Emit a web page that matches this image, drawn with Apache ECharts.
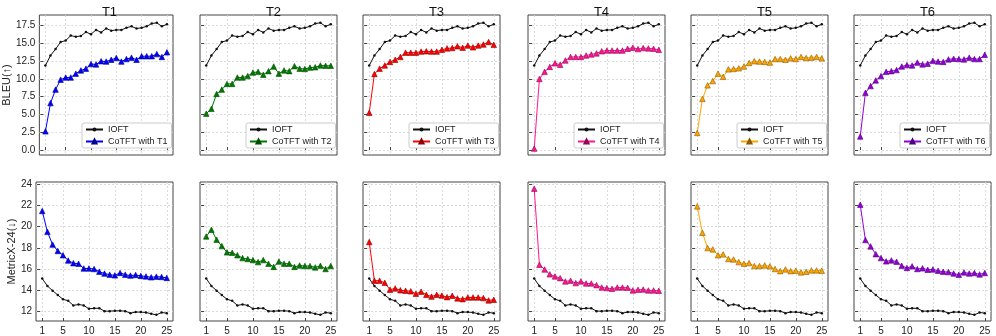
<!DOCTYPE html>
<html>
<head>
<meta charset="utf-8">
<script src="https://cdn.jsdelivr.net/npm/echarts@6/dist/echarts.min.js"></script>
<style>
  html, body { margin: 0; padding: 0; background: #fff; }
  #chart { width: 996px; height: 336px; }
</style>
</head>
<body>
<div id="chart"></div>
<script>
// epochs 1..25
const epochs = Array.from({length: 25}, (_, i) => i + 1);
const xTicks = [1, 5, 10, 15, 20, 25];
const bleuTicks = [0, 2.5, 5, 7.5, 10, 12.5, 15, 17.5];
const metricTicks = [12, 14, 16, 18, 20, 22, 24];
const tasks = ['T1', 'T2', 'T3', 'T4', 'T5', 'T6'];

// IOFT baseline (same in every panel)
const ioftBleu = [11.9, 13.3, 14.2, 15.2, 15.4, 16.1, 15.95, 16.05, 16.6, 16.3, 16.9, 16.55, 17.1, 16.8, 16.9, 16.9, 17.2, 17.4, 17.1, 17.2, 17.4, 17.8, 17.9, 17.4, 17.7];
const ioftMetric = [15.1, 14.4, 13.96, 13.55, 13.15, 13.0, 12.57, 12.66, 12.57, 12.25, 12.3, 12.3, 12.03, 12.03, 12.06, 12.06, 12.03, 11.84, 11.94, 11.94, 11.9, 11.78, 11.68, 11.9, 11.84];

// CoTFT BLEU per task
const bleuT1 = [2.63, 6.6, 8.5, 9.9, 10.2, 10.2, 10.75, 11.2, 11.45, 12.1, 12.05, 12.5, 12.45, 12.7, 12.95, 12.45, 12.8, 13.0, 12.7, 13.2, 13.2, 13.2, 13.5, 13.1, 13.75];
const bleuT2 = [5.12, 5.8, 7.9, 8.5, 9.3, 9.3, 10.2, 10.2, 10.4, 10.9, 11.0, 10.6, 11.1, 11.75, 10.75, 11.2, 11.1, 11.8, 11.45, 11.4, 11.6, 11.65, 11.9, 11.85, 11.85];
const bleuT3 = [5.25, 10.7, 11.45, 11.9, 12.4, 12.7, 13.1, 13.7, 13.7, 13.7, 13.85, 13.9, 13.85, 13.85, 14.1, 14.3, 14.35, 14.6, 14.4, 14.7, 14.45, 14.7, 14.85, 15.2, 14.8];
const bleuT4 = [0.2, 10.0, 11.0, 11.7, 12.2, 12.0, 12.6, 13.1, 13.1, 13.1, 13.3, 13.45, 13.6, 13.9, 14.0, 14.0, 14.0, 14.0, 14.25, 14.4, 14.2, 14.35, 14.3, 14.25, 14.1];
const bleuT5 = [2.4, 7.2, 9.1, 9.7, 10.75, 10.3, 11.35, 11.4, 11.5, 11.75, 12.25, 12.5, 12.45, 12.4, 12.3, 12.8, 12.8, 12.7, 12.9, 12.8, 13.1, 12.95, 13.0, 13.1, 12.9];
const bleuT6 = [1.9, 8.05, 9.0, 9.8, 10.4, 11.0, 11.1, 11.25, 11.75, 11.95, 11.9, 12.3, 12.05, 12.15, 12.55, 12.45, 12.4, 12.75, 12.85, 12.8, 12.75, 13.0, 12.8, 12.8, 13.4];

// CoTFT MetricX-24 per task
const metricT1 = [21.47, 19.5, 18.3, 17.7, 17.3, 16.8, 16.55, 16.5, 16.05, 16.05, 16.0, 15.75, 15.57, 15.47, 15.4, 15.63, 15.47, 15.38, 15.44, 15.35, 15.3, 15.22, 15.28, 15.25, 15.16];
const metricT2 = [19.07, 19.7, 18.76, 18.16, 17.57, 17.53, 17.3, 17.03, 16.94, 16.84, 16.65, 16.84, 16.5, 16.2, 16.7, 16.5, 16.5, 16.2, 16.33, 16.28, 16.28, 16.15, 16.3, 16.0, 16.28];
const metricT3 = [18.54, 14.9, 14.9, 14.7, 14.05, 14.17, 14.0, 13.95, 13.9, 13.67, 13.86, 13.57, 13.4, 13.57, 13.5, 13.35, 13.48, 13.23, 13.16, 13.32, 13.32, 13.32, 13.26, 13.04, 13.1];
const metricT4 = [23.57, 16.4, 15.96, 15.5, 15.3, 15.14, 14.83, 14.9, 14.67, 14.83, 14.64, 14.64, 14.48, 14.26, 14.2, 14.14, 14.26, 14.26, 14.23, 13.98, 14.04, 14.07, 13.98, 13.98, 13.95];
const metricT5 = [21.9, 19.42, 17.97, 17.85, 17.3, 17.38, 16.94, 16.9, 16.65, 16.5, 16.56, 16.28, 16.28, 16.34, 16.25, 16.0, 15.8, 15.96, 15.8, 15.84, 15.68, 15.74, 15.87, 15.87, 15.84];
const metricT6 = [22.06, 18.73, 18.13, 17.4, 17.03, 16.72, 16.81, 16.69, 16.3, 16.1, 16.25, 16.0, 16.06, 15.93, 15.96, 15.84, 15.74, 15.71, 15.58, 15.46, 15.68, 15.58, 15.62, 15.49, 15.62];

const bleuAll = [bleuT1, bleuT2, bleuT3, bleuT4, bleuT5, bleuT6];
const metricAll = [metricT1, metricT2, metricT3, metricT4, metricT5, metricT6];
const lineColors = ['#0000ff', '#007a00', '#ff0000', '#ff1493', '#ffa500', '#9400d3'];
const edgeColors = ['#00008b', '#004d00', '#8b0000', '#8b0a50', '#8b5a00', '#4b0082'];

const panelLeft = [36, 200, 363, 528, 691, 854];
const panelW = 137;
const FONT = 'Liberation Sans, Arial, sans-serif';

function pair(arr) {
  return epochs.map((e, i) => [e, arr[i]]);
}

const grid = [], xAxis = [], yAxis = [], series = [], legend = [], title = [];

tasks.forEach((t, k) => {
  [0, 1].forEach(row => {
    const idx = grid.length;
    grid.push({
      left: panelLeft[k], width: panelW,
      top: row === 0 ? 15 : 182, height: row === 0 ? 140 : 139,
      show: true, borderColor: '#444', borderWidth: 1
    });
    xAxis.push({
      type: 'value', gridIndex: idx, min: -0.2, max: 26.2,
      axisLine: { show: false },
      axisTick: { inside: true, length: 3, lineStyle: { color: '#444' }, customValues: xTicks },
      axisLabel: { show: row === 1, customValues: xTicks, fontSize: 10, color: '#222', fontFamily: FONT, margin: 5 },
      splitLine: { show: true, lineStyle: { color: '#d4d4d4', type: [2, 2], width: 0.8 } }
    });
    const ticks = row === 0 ? bleuTicks : metricTicks;
    yAxis.push({
      type: 'value', gridIndex: idx,
      min: row === 0 ? -0.7 : 11.1, max: row === 0 ? 19.0 : 24.2,
      name: k === 0 ? (row === 0 ? 'BLEU(↑)' : 'MetricX-24(↓)') : '',
      nameLocation: 'middle', nameGap: row === 0 ? 22 : 19,
      nameTextStyle: { fontSize: 11, color: '#222', fontFamily: FONT },
      axisLine: { show: false },
      axisTick: { inside: true, length: 3, lineStyle: { color: '#444' }, customValues: ticks },
      axisLabel: {
        show: k === 0, customValues: ticks, fontSize: 10, color: '#222', fontFamily: FONT, margin: 4,
        formatter: v => row === 0 ? v.toFixed(1) : String(v)
      },
      splitLine: { show: true, lineStyle: { color: '#d4d4d4', type: [2, 2], width: 0.8 } }
    });
    series.push({
      name: 'IOFT', type: 'line', xAxisIndex: idx, yAxisIndex: idx,
      data: pair(row === 0 ? ioftBleu : ioftMetric),
      symbol: 'circle', symbolSize: 2.5, silent: true,
      lineStyle: { color: '#111', width: 1 },
      itemStyle: { color: '#111' }, z: 3
    });
    series.push({
      name: 'CoTFT with ' + t, type: 'line', xAxisIndex: idx, yAxisIndex: idx,
      data: pair(row === 0 ? bleuAll[k] : metricAll[k]),
      symbol: 'triangle', symbolSize: 5.5, silent: true,
      lineStyle: { color: lineColors[k], width: 1 },
      itemStyle: { color: lineColors[k], borderColor: edgeColors[k], borderWidth: 0.6 }, z: 4
    });
  });
  title.push({
    text: t, left: panelLeft[k] + panelW / 2, top: 1, textAlign: 'center',
    textStyle: { fontSize: 13, fontWeight: 'normal', color: '#111', fontFamily: FONT }
  });
  legend.push({
    data: ['IOFT', 'CoTFT with ' + t], orient: 'vertical',
    left: panelLeft[k] + 46, top: 123,
    itemWidth: 17, itemHeight: 5, itemGap: 3,
    padding: [2, 4, 2, 3], borderColor: '#ccc', borderWidth: 1, borderRadius: 2,
    backgroundColor: '#fff', selectedMode: false,
    textStyle: { fontSize: 9, color: '#222', fontFamily: FONT }
  });
});

const chart = echarts.init(document.getElementById('chart'), null, { renderer: 'canvas' });
chart.setOption({
  animation: false,
  backgroundColor: '#fff',
  title: title,
  legend: legend,
  grid: grid,
  xAxis: xAxis,
  yAxis: yAxis,
  series: series
});
</script>
</body>
</html>
